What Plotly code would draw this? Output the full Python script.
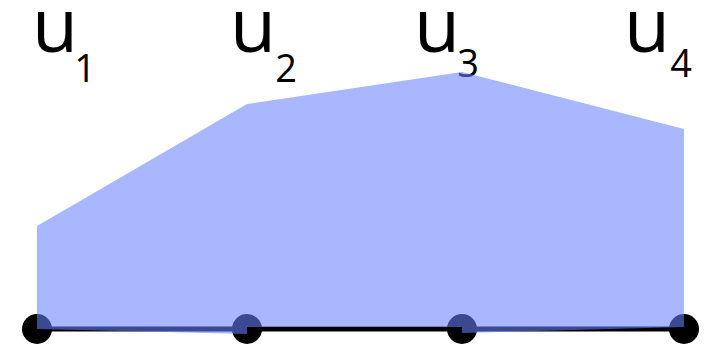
import plotly.graph_objects as go

# node positions (horizontal) and the line level
node_x = [0.0, 2.10, 4.25, 6.47]
node_y = [0.0, 0.0, 0.0, 0.0]

# panels: each between two nodes, with bottom and top heights
panel_x = [[0.0, 2.10], [2.10, 4.25], [4.25, 6.47]]
panel_bottom = [[0.0, -0.05], [0.02, 0.02], [-0.04, 0.02]]
panel_top = [[1.03, 2.25], [2.25, 2.57], [2.57, 2.00]]

# labels
label_main = ["u", "u", "u", "u"]
label_sub = ["1", "2", "3", "4"]
main_x = [0.18, 2.16, 4.00, 6.10]
main_y = [2.96, 2.96, 2.96, 2.96]
sub_x = [0.48, 2.49, 4.31, 6.44]
sub_y = [2.565, 2.565, 2.62, 2.62]

fig = go.Figure()

fig.add_trace(go.Scatter(x=main_x, y=main_y, text=label_main, mode="text",
                         textposition="middle center",
                         textfont=dict(size=75, color="black", family="Open Sans"),
                         hoverinfo="skip", showlegend=False))
fig.add_trace(go.Scatter(x=sub_x, y=sub_y, text=label_sub, mode="text",
                         textposition="middle center",
                         textfont=dict(size=38, color="black", family="Open Sans"),
                         hoverinfo="skip", showlegend=False))

fig.add_trace(go.Scatter(x=node_x, y=node_y, mode="lines+markers",
                         line=dict(color="black", width=5),
                         marker=dict(color="black", size=30),
                         hoverinfo="skip", showlegend=False))

for px, pb, pt in zip(panel_x, panel_bottom, panel_top):
    xs = [px[0], px[1], px[1], px[0], px[0]]
    ys = [pb[0], pb[1], pt[1], pt[0], pb[0]]
    fig.add_trace(go.Scatter(x=xs, y=ys, mode="lines", fill="toself",
                             fillcolor="rgba(102,128,255,0.57)",
                             line=dict(width=0, color="rgba(0,0,0,0)"),
                             hoverinfo="skip", showlegend=False))

fig.update_layout(
    width=710, height=339,
    margin=dict(l=0, r=0, t=0, b=0),
    paper_bgcolor="white", plot_bgcolor="white",
    xaxis=dict(range=[-0.29, 6.81], visible=False, fixedrange=True),
    yaxis=dict(range=[-0.18, 3.21], visible=False, fixedrange=True),
)

fig.write_html("out.html")
